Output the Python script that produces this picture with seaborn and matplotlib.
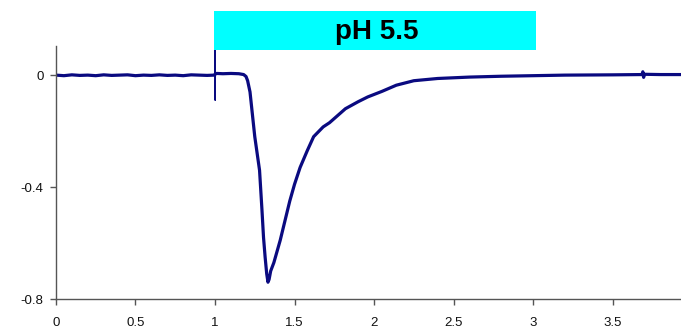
import matplotlib
matplotlib.use("Agg")
import matplotlib.pyplot as plt
import seaborn as sns
import pandas as pd
from matplotlib.patches import Rectangle

# ---- data ----
time_s = [0.00, 0.05, 0.10, 0.15, 0.20, 0.25, 0.30, 0.35, 0.40, 0.45, 0.50, 0.55,
          0.60, 0.65, 0.70, 0.75, 0.80, 0.85, 0.90, 0.95, 0.995, 1.003,
          1.01, 1.05, 1.10, 1.15, 1.18, 1.195, 1.205, 1.22, 1.235, 1.25, 1.27, 1.28,
          1.295, 1.305, 1.315, 1.325, 1.333, 1.34, 1.35, 1.37, 1.41, 1.44, 1.47, 1.50,
          1.535, 1.58, 1.62, 1.68, 1.72, 1.76, 1.82, 1.90, 1.96, 2.05, 2.14, 2.25, 2.40,
          2.60, 2.80, 3.00, 3.20, 3.50, 3.685, 3.690, 3.695, 3.70, 3.80, 3.93]
current = [0.000, -0.002, 0.001, -0.001, 0.000, -0.002, 0.001, -0.001, 0.000, 0.001,
           -0.002, 0.000, -0.001, 0.001, -0.001, 0.000, -0.002, 0.001, 0.000, -0.001,
           0.000, 0.004, 0.006, 0.005, 0.006, 0.005, 0.002, -0.005,
           -0.020, -0.060, -0.140, -0.220, -0.300, -0.340, -0.480, -0.580, -0.650,
           -0.710, -0.740, -0.730, -0.700, -0.670, -0.590, -0.520, -0.450, -0.390,
           -0.330, -0.270, -0.220, -0.185, -0.170, -0.150, -0.120, -0.095, -0.078,
           -0.058, -0.036, -0.020, -0.012, -0.007, -0.004, -0.002, 0.000, 0.001,
           0.002, 0.012, -0.008, 0.003, 0.002, 0.002]
# stimulus artefact at solution switch
spike_t = [0.999, 1.000, 1.001, 1.002]
spike_i = [0.000, 0.090, -0.090, 0.004]
x_ticks = [0, 0.5, 1, 1.5, 2, 2.5, 3, 3.5]
x_tick_labels = ["0", "0.5", "1", "1.5", "2", "2.5", "3", "3.5"]
y_ticks = [0, -0.4, -0.8]
y_tick_labels = ["0", "-0.4", "-0.8"]
bar_label = "pH 5.5"

df = pd.DataFrame({"t": time_s, "i": current})
df_spike = pd.DataFrame({"t": spike_t, "i": spike_i})

sns.set_theme(style="white")
plt.rcParams["font.family"] = ["Liberation Sans", "DejaVu Sans"]

fig = plt.figure(figsize=(6.81, 3.28), dpi=100)
ax = fig.add_axes([0.0822, 0.0884, 0.9178, 0.7713])

trace_color = "#0a0a80"
sns.lineplot(data=df, x="t", y="i", ax=ax, color=trace_color, linewidth=2.3,
             estimator=None, sort=False)
sns.lineplot(data=df_spike, x="t", y="i", ax=ax, color=trace_color, linewidth=1.0,
             estimator=None, sort=False)

ax.set_xlim(0, 3.93)
ax.set_ylim(-0.8, 0.104)
ax.set_xticks(x_ticks)
ax.set_xticklabels(x_tick_labels)
ax.set_yticks(y_ticks)
ax.set_yticklabels(y_tick_labels)
ax.set_xlabel("")
ax.set_ylabel("")

for s in ["top", "right"]:
    ax.spines[s].set_visible(False)
for s in ["left", "bottom"]:
    ax.spines[s].set_color("#555555")
    ax.spines[s].set_linewidth(1.0)

ax.tick_params(axis="both", which="major", direction="out", length=4, width=1,
               color="#555555", labelsize=9.5, labelcolor="#111111",
               left=True, bottom=True)
ax.tick_params(axis="y", pad=5)
ax.tick_params(axis="x", pad=9)

# stimulus bar above the axes
bx0 = 214 / 681
bx1 = 536 / 681
by0 = 1 - 50 / 328
by1 = 1 - 11 / 328
fig.patches.append(Rectangle((bx0, by0), bx1 - bx0, by1 - by0, transform=fig.transFigure,
                             facecolor="#00ffff", edgecolor="none", zorder=0))
fig.text(377 / 681, 1 - 32 / 328, bar_label, ha="center", va="center",
         fontsize=20, fontweight="bold", color="black")

fig.savefig("out.png", dpi=100)
